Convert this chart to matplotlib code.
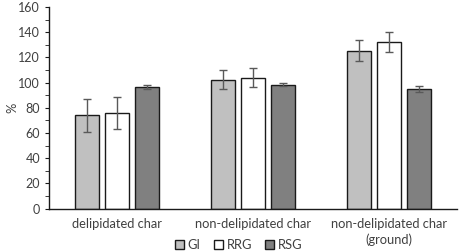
import numpy as np
import matplotlib.pyplot as plt
from matplotlib.ticker import MultipleLocator

categories = ["delipidated char", "non-delipidated char", "non-delipidated char\n(ground)"]
series = ["GI", "RRG", "RSG"]
gi = [74, 102.5, 125.5]
rrg = [76, 104, 132.5]
rsg = [96.5, 98.5, 95]
gi_err = [13, 7.5, 8.5]
rrg_err = [13, 7.5, 8]
rsg_err = [1.5, 1.5, 2.5]

plt.rcParams['font.family'] = ['Lato', 'DejaVu Sans']

fig = plt.figure(figsize=(4.59, 2.52), dpi=100)
ax = fig.add_axes([0.107, 0.172, 0.889, 0.8])

x = np.arange(len(categories))
w = 0.176
step = 0.22
colors = ['#c0c0c0', '#ffffff', '#808080']
for i, (vals, errs, c, name) in enumerate(zip([gi, rrg, rsg], [gi_err, rrg_err, rsg_err], colors, series)):
    ax.bar(x + (i - 1) * step, vals, w, color=c, edgecolor='#1a1a1a', linewidth=1.0, label=name,
           yerr=errs, error_kw=dict(ecolor='#595959', elinewidth=1.0, capsize=3, capthick=1.0))

ax.set_xlim(-0.5, 2.5)
ax.set_ylim(0, 160)
ax.yaxis.set_major_locator(MultipleLocator(20))
ax.yaxis.set_minor_locator(MultipleLocator(10))
ax.set_xticks(x)
ax.set_xticklabels(categories, linespacing=1.3)
ax.tick_params(axis='x', length=0, pad=7, labelsize=9.3, labelcolor='#404040')
ax.tick_params(axis='y', which='both', length=3, labelsize=9, labelcolor='#404040', color='#1a1a1a')
ax.set_ylabel('%', fontsize=9.3, color='#404040')
ax.yaxis.set_label_coords(-0.075, 0.5)
for s in ['top', 'right']:
    ax.spines[s].set_visible(False)
for s in ['left', 'bottom']:
    ax.spines[s].set_color('#1a1a1a')
    ax.spines[s].set_linewidth(1.0)

ax.legend(loc='center', bbox_to_anchor=(0.52, 0.028), bbox_transform=fig.transFigure, ncol=3,
          frameon=False, fontsize=9.3, handlelength=0.7, handleheight=0.7, handletextpad=0.3,
          columnspacing=1.0, labelcolor='#404040', borderpad=0)

fig.savefig('out.png', dpi=100)
